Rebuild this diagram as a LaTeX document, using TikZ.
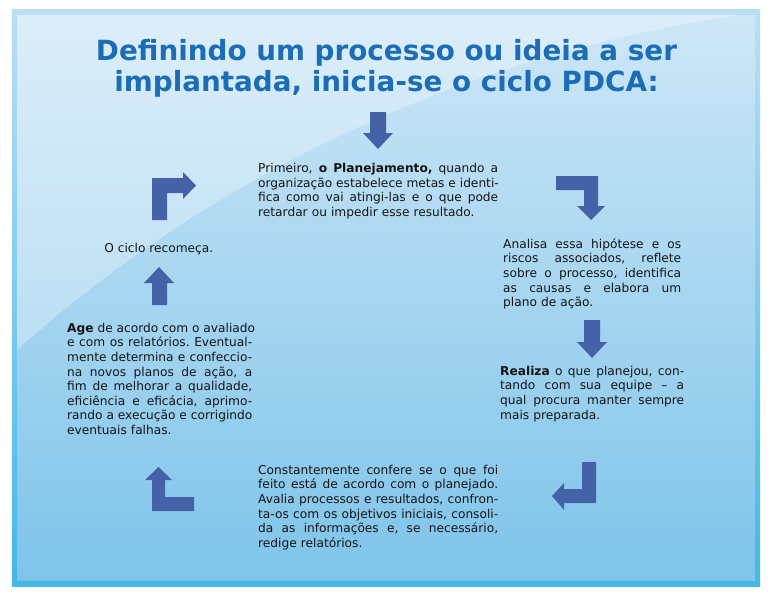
\documentclass[tikz,border=0pt]{standalone}
\usepackage{fontspec}
\setmainfont{DejaVu Sans}
\setlength{\parindent}{0pt}
\definecolor{titleblue}{RGB}{27,110,181}
\definecolor{arrowblue}{RGB}{69,97,168}
\definecolor{paneltop}{RGB}{206,231,247}
\definecolor{panelbot}{RGB}{126,196,234}
\definecolor{frametop}{RGB}{186,223,244}
\definecolor{framebot}{RGB}{68,184,230}
\definecolor{textdark}{RGB}{20,20,20}
\newcommand{\jl}[1]{{\frenchspacing\spaceskip=0.318em plus 1fil\xspaceskip=0.318em plus 1fil\makebox[\hsize][s]{#1}}\\}
\newcommand{\topstrut}{\rule{0pt}{10pt}}
\begin{document}
\begin{tikzpicture}[x=1pt,y=-1pt,
  arrowshape/.style={fill=arrowblue,draw=none},
  bodytext/.style={anchor=north west,inner sep=0pt,text=textdark,
    font=\fontsize{12.2}{14.6}\selectfont},
  titletext/.style={anchor=north,inner sep=0pt,text=titleblue,align=center,
    font=\fontsize{27.8}{31.5}\selectfont\bfseries}]
\useasboundingbox (0,0) rectangle (770,592);
\fill[white] (0,0) rectangle (770,592);
% frame and panel
\shade[top color=frametop,bottom color=framebot] (12,9) rectangle (760,586);
\shade[top color=paneltop,bottom color=panelbot] (17,15) rectangle (755,580);
\begin{scope}
  \clip (17,15) rectangle (755,580);
  \fill[white,opacity=0.3] (17,350) .. controls (150,230) and (400,60) .. (755,13)
     -- (755,0) -- (17,0) -- cycle;
\end{scope}
% title
\node[titletext] (title) at (386.5,38.9) {Definindo um processo ou ideia a ser\\implantada, inicia-se o ciclo PDCA:};
% arrows
\fill[arrowshape] (370,112) -- (386,112) -- (386,133) -- (393,133) -- (378,149) -- (363,133) -- (370,133) -- cycle;
\fill[arrowshape] (556,176) -- (598,176) -- (598,206) -- (605,206) -- (591,220) -- (577,206) -- (584,206) -- (584,190) -- (556,190) -- cycle;
\fill[arrowshape] (584,320) -- (600,320) -- (600,342) -- (607,342) -- (592,358) -- (577,342) -- (584,342) -- cycle;
\fill[arrowshape] (582,462) -- (596,462) -- (596,503) -- (564,503) -- (564,510) -- (552,496) -- (564,483) -- (564,489) -- (582,489) -- cycle;
\fill[arrowshape] (194,497) -- (194,511) -- (152,511) -- (152,480) -- (145,480) -- (158.5,467) -- (172,480) -- (165,480) -- (165,497) -- cycle;
\fill[arrowshape] (152,305) -- (152,283) -- (144,283) -- (159,267) -- (174,283) -- (167,283) -- (167,305) -- cycle;
\fill[arrowshape] (152,220) -- (152,178) -- (183,178) -- (183,172) -- (196,185.5) -- (183,199) -- (183,193) -- (167,193) -- (167,220) -- cycle;
% texts
\node[bodytext,text width=240pt] (plan) at (258,162.5) {\topstrut\jl{Primeiro, \textbf{o Planejamento,} quando a}\jl{organização estabelece metas e identi-}\jl{fica como vai atingi-las e o que pode}retardar ou impedir esse resultado.};
\node[bodytext,text width=178pt] (analisa) at (503,238) {\topstrut\jl{Analisa essa hipótese e os}\jl{riscos associados, reflete}\jl{sobre o processo, identifica}\jl{as causas e elabora um}plano de ação.};
\node[bodytext,text width=184pt] (realiza) at (500,365) {\topstrut\jl{\textbf{Realiza} o que planejou, con-}\jl{tando com sua equipe – a}\jl{qual procura manter sempre}mais preparada.};
\node[bodytext,text width=240pt] (confere) at (258,464) {\topstrut\jl{Constantemente confere se o que foi}\jl{feito está de acordo com o planejado.}\jl{Avalia processos e resultados, confron-}\jl{ta-os com os objetivos iniciais, consoli-}\jl{da as informações e, se necessário,}redige relatórios.};
\node[bodytext,text width=185pt] (age) at (67,322) {\topstrut\jl{\textbf{Age} de acordo com o avaliado}\jl{e com os relatórios. Eventual-}\jl{mente determina e confeccio-}\jl{na novos planos de ação, a}\jl{fim de melhorar a qualidade,}\jl{eficiência e eficácia, aprimo-}\jl{rando a execução e corrigindo}eventuais falhas.};
\node[anchor=base,inner sep=0pt,text=textdark,font=\fontsize{12.2}{14.6}\selectfont] (recomeca) at (158.8,252.3) {O ciclo recomeça.};
\end{tikzpicture}
\end{document}
